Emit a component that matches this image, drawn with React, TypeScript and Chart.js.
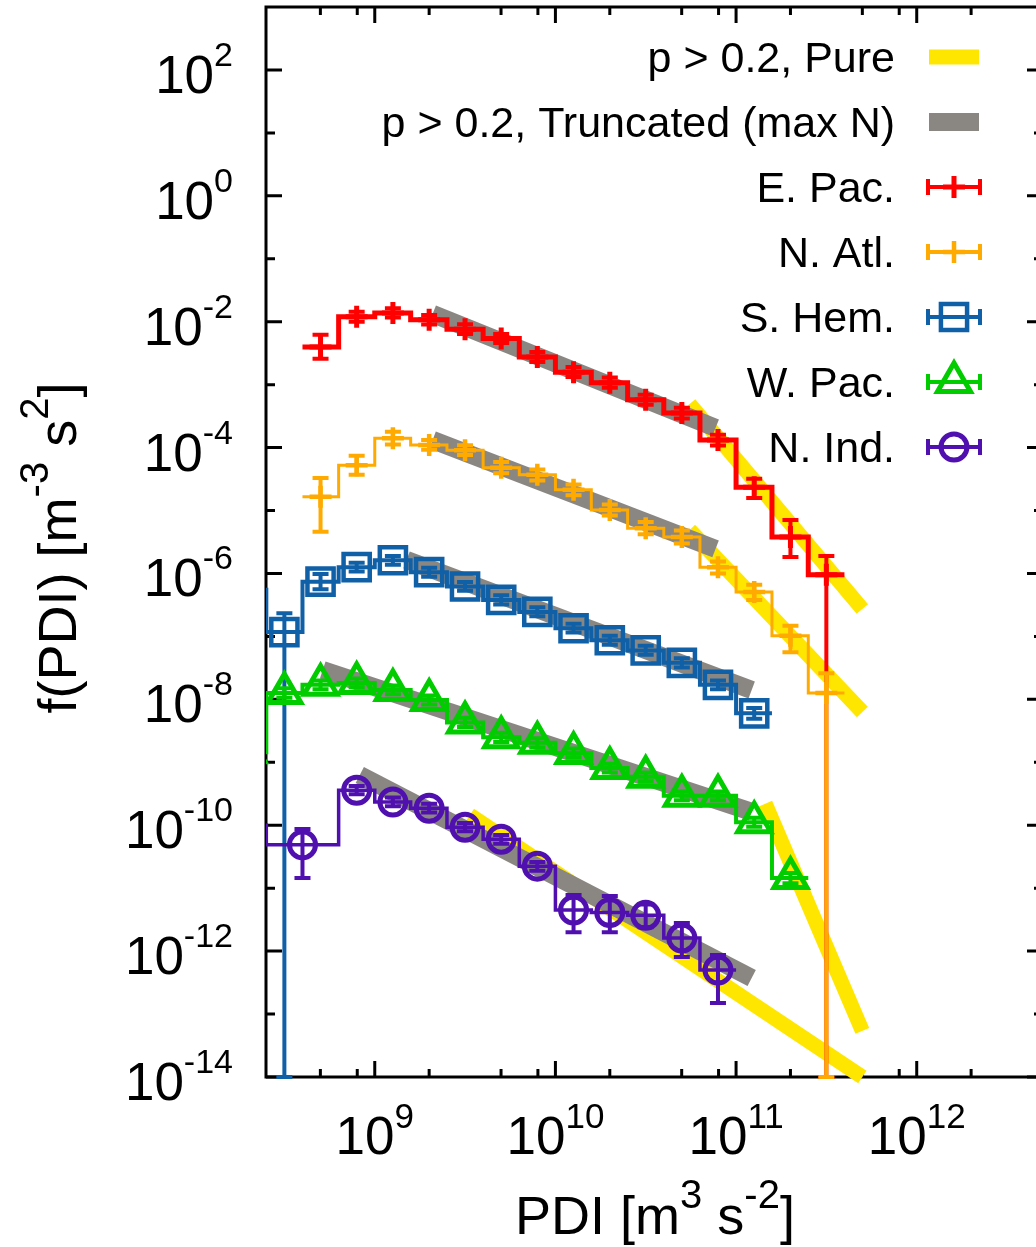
import React, { useEffect, useRef } from 'react';
import { Chart, registerables } from 'chart.js';
import { drawPoint } from 'chart.js/helpers';

Chart.register(...registerables);

// ---------------- data ----------------
// PDI bin centres and bin edges [m^3 s^-2]
const pdiCenters = [2.0e8, 3.16e8, 5.01e8, 7.94e8, 1.26e9, 2.0e9, 3.16e9, 5.01e9, 7.94e9, 1.26e10, 2.0e10, 3.16e10, 5.01e10, 7.94e10, 1.26e11, 2.0e11, 3.16e11];
const pdiEdges = [1.58e8, 2.51e8, 3.98e8, 6.31e8, 1.0e9, 1.58e9, 2.51e9, 3.98e9, 6.31e9, 1.0e10, 1.58e10, 2.51e10, 3.98e10, 6.31e10, 1.0e11, 1.58e11, 2.51e11, 3.98e11];

// E. Pac.
const ePacF = [null, null, 3.98e-3, 1.20e-2, 1.38e-2, 1.07e-2, 7.6e-3, 5.4e-3, 2.75e-3, 1.58e-3, 1.07e-3, 5.75e-4, 3.55e-4, 1.32e-4, 2.34e-5, 3.8e-6, 9.5e-7];
const ePacLo = [null, null, 2.57e-3, 1.0e-2, 1.17e-2, 9.0e-3, 6.4e-3, 4.6e-3, 2.3e-3, 1.32e-3, 8.9e-4, 4.8e-4, 2.9e-4, 1.08e-4, 1.58e-5, 1.82e-6, 0];
const ePacHi = [null, null, 6.2e-3, 1.44e-2, 1.63e-2, 1.28e-2, 9.1e-3, 6.4e-3, 3.3e-3, 1.9e-3, 1.3e-3, 6.9e-4, 4.3e-4, 1.6e-4, 3.2e-5, 7.1e-6, 1.9e-6];

// N. Atl.
const nAtlF = [null, null, 1.66e-5, 5.25e-5, 1.41e-4, 1.10e-4, 9.1e-5, 4.8e-5, 3.7e-5, 2.14e-5, 1.02e-5, 5.25e-6, 3.8e-6, 1.26e-6, 5.1e-7, 1.02e-7, 1.26e-8];
const nAtlLo = [null, null, 4.6e-6, 3.7e-5, 1.12e-4, 9.2e-5, 7.6e-5, 3.9e-5, 3.0e-5, 1.75e-5, 8.3e-6, 4.2e-6, 3.0e-6, 1.0e-6, 3.8e-7, 5.6e-8, 0];
const nAtlHi = [null, null, 3.3e-5, 7.4e-5, 1.78e-4, 1.32e-4, 1.09e-4, 5.9e-5, 4.5e-5, 2.6e-5, 1.25e-5, 6.6e-6, 4.8e-6, 1.55e-6, 6.6e-7, 1.48e-7, 2.6e-8];

// S. Hem.
const sHemF = [5.5e-7, 1.17e-7, 7.4e-7, 1.26e-6, 1.62e-6, 1.05e-6, 6.2e-7, 3.8e-7, 2.45e-7, 1.35e-7, 8.7e-8, 6.0e-8, 3.8e-8, 1.7e-8, 6.0e-9, null, null];
const sHemLo = [4.6e-7, 0, 5.6e-7, 1.07e-6, 1.38e-6, 8.9e-7, 5.3e-7, 3.2e-7, 2.1e-7, 1.15e-7, 7.4e-8, 5.1e-8, 3.2e-8, 1.45e-8, 4.9e-9, null, null];
const sHemHi = [6.5e-7, 2.34e-7, 9.8e-7, 1.48e-6, 1.9e-6, 1.23e-6, 7.3e-7, 4.5e-7, 2.9e-7, 1.59e-7, 1.02e-7, 7.1e-8, 4.5e-8, 2.0e-8, 7.3e-9, null, null];

// W. Pac.
const wPacF = [1.45e-9, 1.26e-8, 1.7e-8, 1.82e-8, 1.41e-8, 9.8e-9, 4.3e-9, 2.5e-9, 2.04e-9, 1.41e-9, 8.1e-10, 5.9e-10, 2.95e-10, 2.95e-10, 1.12e-10, 1.45e-11, null];
const wPacLo = [1.2e-9, 1.06e-8, 1.45e-8, 1.55e-8, 1.2e-8, 8.3e-9, 3.65e-9, 2.1e-9, 1.72e-9, 1.2e-9, 6.9e-10, 5.0e-10, 2.5e-10, 2.5e-10, 9.5e-11, 1.2e-11, null];
const wPacHi = [1.75e-9, 1.5e-8, 2.0e-8, 2.15e-8, 1.66e-8, 1.15e-8, 5.1e-9, 2.95e-9, 2.4e-9, 1.66e-9, 9.5e-10, 6.9e-10, 3.45e-10, 3.45e-10, 1.32e-10, 1.75e-11, null];

// N. Ind. (own binning: wide second bin)
const nIndPdi = [2.0e8, 3.98e8, 7.94e8, 1.26e9, 2.0e9, 3.16e9, 5.01e9, 7.94e9, 1.26e10, 2.0e10, 3.16e10, 5.01e10, 7.94e10];
const nIndEdges = [1.58e8, 2.51e8, 6.31e8, 1.0e9, 1.58e9, 2.51e9, 3.98e9, 6.31e9, 1.0e10, 1.58e10, 2.51e10, 3.98e10, 6.31e10, 1.0e11];
const nIndF = [1.0e-10, 4.9e-11, 3.6e-10, 2.34e-10, 1.86e-10, 9.3e-11, 6.0e-11, 2.24e-11, 4.5e-12, 4.1e-12, 3.7e-12, 1.62e-12, 5.0e-13];
const nIndLo = [8.5e-11, 1.45e-11, 3.1e-10, 2.0e-10, 1.6e-10, 8.0e-11, 5.1e-11, 1.9e-11, 2.0e-12, 2.0e-12, 2.4e-12, 8.1e-13, 1.5e-13];
const nIndHi = [1.18e-10, 8.7e-11, 4.2e-10, 2.75e-10, 2.2e-10, 1.09e-10, 7.0e-11, 2.6e-11, 7.8e-12, 7.5e-12, 5.5e-12, 2.8e-12, 8.7e-13];

// Fits: p > 0.2, Pure
const pureEPacX = [5.53e10, 5.0e11];
const pureEPacY = [4.93e-4, 2.73e-7];
const pureNAtlX = [5.53e10, 5.0e11];
const pureNAtlY = [4.91e-6, 6.3e-9];
const pureWPacX = [1.45e11, 5.0e11];
const pureWPacY = [2.2e-10, 5.4e-14];
const pureNIndX = [3.36e9, 5.0e11];
const pureNIndY = [1.46e-10, 1.0e-14];

// Fits: p > 0.2, Truncated (max N)
const truncEPacX = [2.09e9, 7.7e10];
const truncEPacY = [1.33e-2, 2.05e-4];
const truncNAtlX = [2.09e9, 7.7e10];
const truncNAtlY = [1.32e-4, 2.45e-6];
const truncSHemX = [1.50e9, 1.22e11];
const truncSHemY = [1.64e-6, 1.41e-8];
const truncWPacX = [5.15e8, 1.22e11];
const truncWPacY = [2.93e-8, 1.63e-10];
const truncNIndX = [8.26e8, 1.22e11];
const truncNIndY = [6.3e-10, 3.74e-13];

// Axis ticks
const xMajorTicks = [1e9, 1e10, 1e11, 1e12];
const xTickExponents = ['9', '10', '11', '12'];
const xMinorTicks = [5e8, 8e8, 2e9, 5e9, 8e9, 2e10, 5e10, 8e10, 2e11, 5e11, 8e11, 2e12];
const yMajorTicks = [1e2, 1e0, 1e-2, 1e-4, 1e-6, 1e-8, 1e-10, 1e-12, 1e-14];
const yTickExponents = ['2', '0', '-2', '-4', '-6', '-8', '-10', '-12', '-14'];
const yMinorTicks = [1e1, 1e-1, 1e-3, 1e-5, 1e-7, 1e-9, 1e-11, 1e-13];

const pureLabel = 'p > 0.2, Pure';
const truncLabel = 'p > 0.2, Truncated (max N)';

// ---------------- styling ----------------
const FONT = '"Liberation Sans", Arial, Helvetica, sans-serif';
const YELLOW = '#ffe600';
const GRAY = '#8a8682';
const PURE_W = 15;
const TRUNC_W = 18;

type Part = { t: string; sup?: boolean };

function stepPoints(edges: number[], values: (number | null)[]) {
  const pts: { x: number; y: number }[] = [];
  let last = -1;
  for (let i = 0; i < values.length; i++) {
    const v = values[i];
    if (v == null) continue;
    pts.push({ x: edges[i], y: v });
    last = i;
  }
  if (last >= 0) pts.push({ x: edges[last + 1], y: values[last] as number });
  return pts;
}

function markerPoints(centers: number[], f: (number | null)[], lo: (number | null)[], hi: (number | null)[]) {
  const pts: any[] = [];
  centers.forEach((x, i) => {
    if (f[i] == null) return;
    pts.push({ x, y: f[i], lo: lo[i], hi: hi[i] });
  });
  return pts;
}

function fitDataset(label: string | null, xs: number[], ys: number[], color: string, width: number, order: number) {
  return {
    label,
    kind: 'fit',
    data: xs.map((x, i) => ({ x, y: ys[i] })),
    borderColor: color,
    backgroundColor: color,
    borderWidth: width,
    borderCapStyle: 'butt',
    pointRadius: 0,
    fill: false,
    order,
    clip: { left: 0, top: 0, right: 0, bottom: 10 },
  };
}

const series = [
  { label: 'E. Pac.', color: '#ff0000', centers: pdiCenters, edges: pdiEdges, f: ePacF, lo: ePacLo, hi: ePacHi, marker: 'cross', radius: 11, pw: 5, stepW: 5, order: 50 },
  { label: 'N. Atl.', color: '#ffaa00', centers: pdiCenters, edges: pdiEdges, f: nAtlF, lo: nAtlLo, hi: nAtlHi, marker: 'cross', radius: 11, pw: 4.5, stepW: 3, order: 40 },
  { label: 'S. Hem.', color: '#1060a8', centers: pdiCenters, edges: pdiEdges, f: sHemF, lo: sHemLo, hi: sHemHi, marker: 'rect', radius: 18.5, pw: 4.5, stepW: 4, order: 30 },
  { label: 'W. Pac.', color: '#00cc00', centers: pdiCenters, edges: pdiEdges, f: wPacF, lo: wPacLo, hi: wPacHi, marker: 'triangle', radius: 19, pw: 5, stepW: 4, order: 20 },
  { label: 'N. Ind.', color: '#5010b0', centers: nIndPdi, edges: nIndEdges, f: nIndF, lo: nIndLo, hi: nIndHi, marker: 'circle', radius: 13, pw: 5, stepW: 3.5, order: 10 },
];

function buildDatasets() {
  const ds: any[] = [];
  ds.push(fitDataset(pureLabel, pureEPacX, pureEPacY, YELLOW, PURE_W, 100));
  ds.push(fitDataset(null, pureNAtlX, pureNAtlY, YELLOW, PURE_W, 100));
  ds.push(fitDataset(null, pureWPacX, pureWPacY, YELLOW, PURE_W, 100));
  ds.push(fitDataset(null, pureNIndX, pureNIndY, YELLOW, PURE_W, 100));
  ds.push(fitDataset(truncLabel, truncEPacX, truncEPacY, GRAY, TRUNC_W, 90));
  ds.push(fitDataset(null, truncNAtlX, truncNAtlY, GRAY, TRUNC_W, 90));
  ds.push(fitDataset(null, truncSHemX, truncSHemY, GRAY, TRUNC_W, 90));
  ds.push(fitDataset(null, truncWPacX, truncWPacY, GRAY, TRUNC_W, 90));
  ds.push(fitDataset(null, truncNIndX, truncNIndY, GRAY, TRUNC_W, 90));
  series.forEach((s) => {
    ds.push({
      label: null,
      kind: 'step',
      data: stepPoints(s.edges, s.f),
      borderColor: s.color,
      borderWidth: s.stepW,
      borderJoinStyle: 'miter',
      borderCapStyle: 'butt',
      stepped: true,
      pointRadius: 0,
      fill: false,
      order: s.order + 1,
    });
    ds.push({
      label: s.label,
      kind: 'series',
      data: markerPoints(s.centers, s.f, s.lo, s.hi),
      showLine: false,
      borderColor: s.color,
      backgroundColor: 'rgba(0,0,0,0)',
      pointStyle: s.marker,
      pointRadius: s.radius,
      pointBorderWidth: s.pw,
      pointBorderColor: s.color,
      pointBackgroundColor: 'rgba(0,0,0,0)',
      errorBars: true,
      errorBarWidth: 4,
      order: s.order,
    });
  });
  return ds;
}

function partsWidth(ctx: CanvasRenderingContext2D, parts: Part[], size: number, supSize: number) {
  let w = 0;
  for (const p of parts) {
    ctx.font = `${p.sup ? supSize : size}px ${FONT}`;
    w += ctx.measureText(p.t).width;
  }
  return w;
}

function drawParts(ctx: CanvasRenderingContext2D, parts: Part[], x: number, y: number, align: string, size: number, supSize: number, rise: number) {
  const w = partsWidth(ctx, parts, size, supSize);
  let cx = align === 'left' ? x : align === 'right' ? x - w : x - w / 2;
  ctx.textAlign = 'left';
  ctx.textBaseline = 'alphabetic';
  for (const p of parts) {
    ctx.font = `${p.sup ? supSize : size}px ${FONT}`;
    ctx.fillText(p.t, cx, p.sup ? y - rise : y);
    cx += ctx.measureText(p.t).width;
  }
}

const framePlugin = {
  id: 'gnuFrame',
  beforeDatasetsDraw(chart: any) {
    const { ctx, chartArea: a, scales } = chart;
    const xs = scales.x;
    const ys = scales.y;
    ctx.save();
    ctx.strokeStyle = '#000';
    ctx.lineWidth = 3;
    ctx.lineCap = 'butt';
    ctx.beginPath();
    const xt = (v: number, len: number) => {
      const p = xs.getPixelForValue(v);
      ctx.moveTo(p, a.bottom);
      ctx.lineTo(p, a.bottom - len);
      ctx.moveTo(p, a.top);
      ctx.lineTo(p, a.top + len);
    };
    const yt = (v: number, len: number) => {
      const p = ys.getPixelForValue(v);
      ctx.moveTo(a.left, p);
      ctx.lineTo(a.left + len, p);
      ctx.moveTo(a.right, p);
      ctx.lineTo(a.right - len, p);
    };
    xMajorTicks.forEach((v) => xt(v, 16));
    xMinorTicks.forEach((v) => xt(v, 8));
    yMajorTicks.forEach((v) => yt(v, 16));
    yMinorTicks.forEach((v) => yt(v, 9));
    ctx.stroke();
    ctx.strokeRect(a.left, a.top, a.right - a.left, a.bottom - a.top);
    ctx.restore();
  },
};

const errorBarPlugin = {
  id: 'errorBars',
  afterDatasetDraw(chart: any, args: any) {
    const ds = chart.data.datasets[args.index];
    if (!ds.errorBars) return;
    const { ctx, chartArea: a, scales } = chart;
    const xs = scales.x;
    const ys = scales.y;
    ctx.save();
    ctx.beginPath();
    ctx.rect(a.left, a.top, a.right - a.left, a.bottom - a.top + 4);
    ctx.clip();
    ctx.strokeStyle = ds.borderColor;
    ctx.lineWidth = ds.errorBarWidth;
    ctx.lineCap = 'butt';
    ctx.beginPath();
    ds.data.forEach((p: any) => {
      if (p.hi == null || p.lo == null) return;
      const px = xs.getPixelForValue(p.x);
      const top = ys.getPixelForValue(p.hi);
      const bot = ys.getPixelForValue(Math.max(p.lo, ys.min));
      ctx.moveTo(px, top);
      ctx.lineTo(px, bot);
      ctx.moveTo(px - 8, top);
      ctx.lineTo(px + 8, top);
      ctx.moveTo(px - 8, bot);
      ctx.lineTo(px + 8, bot);
    });
    ctx.stroke();
    ctx.restore();
  },
};

const textPlugin = {
  id: 'gnuText',
  afterDraw(chart: any) {
    const { ctx, chartArea: a, scales } = chart;
    const xs = scales.x;
    const ys = scales.y;
    ctx.save();
    ctx.fillStyle = '#000';

    // x tick labels
    xMajorTicks.forEach((v, i) => {
      const p = xs.getPixelForValue(v);
      drawParts(ctx, [{ t: '10' }, { t: xTickExponents[i], sup: true }], p, a.bottom + 77, 'center', 53, 35, 26);
    });
    // y tick labels
    yMajorTicks.forEach((v, i) => {
      const p = ys.getPixelForValue(v);
      drawParts(ctx, [{ t: '10' }, { t: yTickExponents[i], sup: true }], a.left - 33, p + 23, 'right', 53, 34, 27);
    });

    // x title
    const xTitle: Part[] = [{ t: 'PDI [m' }, { t: '3', sup: true }, { t: ' s' }, { t: '-2', sup: true }, { t: ']' }];
    drawParts(ctx, xTitle, 655, 1234, 'center', 54, 40, 26);

    // y title
    const yTitle: Part[] = [{ t: 'f(PDI) [m' }, { t: '-3', sup: true }, { t: ' s' }, { t: '2', sup: true }, { t: ']' }];
    ctx.save();
    ctx.translate(76, 548);
    ctx.rotate(-Math.PI / 2);
    drawParts(ctx, yTitle, 0, 0, 'center', 54, 40, 28);
    ctx.restore();

    // legend
    const entries = chart.data.datasets.filter((d: any) => d.label);
    const textRight = 895;
    const sx0 = 928;
    const sx1 = 980;
    entries.forEach((d: any, i: number) => {
      const y = 57 + i * 65;
      ctx.fillStyle = '#000';
      ctx.font = `43px ${FONT}`;
      ctx.textAlign = 'right';
      ctx.textBaseline = 'alphabetic';
      ctx.fillText(d.label, textRight, y + 15);
      if (d.kind === 'fit') {
        ctx.strokeStyle = d.borderColor;
        ctx.lineWidth = d.borderWidth;
        ctx.lineCap = 'butt';
        ctx.beginPath();
        ctx.moveTo(sx0 + 1, y);
        ctx.lineTo(sx1 - 1, y);
        ctx.stroke();
      } else {
        ctx.strokeStyle = d.borderColor;
        ctx.lineWidth = d.errorBarWidth;
        ctx.lineCap = 'butt';
        ctx.beginPath();
        ctx.moveTo(sx0, y);
        ctx.lineTo(sx1, y);
        ctx.moveTo(sx0, y - 8);
        ctx.lineTo(sx0, y + 8);
        ctx.moveTo(sx1, y - 8);
        ctx.lineTo(sx1, y + 8);
        ctx.stroke();
        ctx.fillStyle = 'rgba(0,0,0,0)';
        ctx.lineWidth = d.pointBorderWidth;
        drawPoint(ctx, { pointStyle: d.pointStyle, radius: d.pointRadius, rotation: 0, borderWidth: d.pointBorderWidth } as any, (sx0 + sx1) / 2, y);
      }
    });
    ctx.restore();
  },
};

export default function App() {
  const ref = useRef<HTMLCanvasElement>(null);
  useEffect(() => {
    if (!ref.current) return;
    const chart = new Chart(ref.current, {
      type: 'line',
      data: { datasets: buildDatasets() },
      options: {
        animation: false,
        responsive: false,
        maintainAspectRatio: false,
        devicePixelRatio: 1,
        events: [],
        layout: { autoPadding: false, padding: { left: 266, top: 7, right: 17, bottom: 170 } },
        scales: {
          x: { type: 'logarithmic', min: 2.5e8, max: 5e12, display: false, bounds: 'data' },
          y: { type: 'logarithmic', min: 1e-14, max: 1e3, display: false, bounds: 'data' },
        },
        plugins: { legend: { display: false }, tooltip: { enabled: false } },
        elements: { line: { tension: 0 } },
      },
      plugins: [framePlugin, errorBarPlugin, textPlugin],
    } as any);
    return () => chart.destroy();
  }, []);
  return (
    <div style={{ position: 'fixed', left: 0, top: 0, width: 1036, height: 1247, overflow: 'hidden', background: '#fff' }}>
      <canvas ref={ref} width={1060} height={1247} style={{ display: 'block', width: 1060, height: 1247 }} />
    </div>
  );
}
